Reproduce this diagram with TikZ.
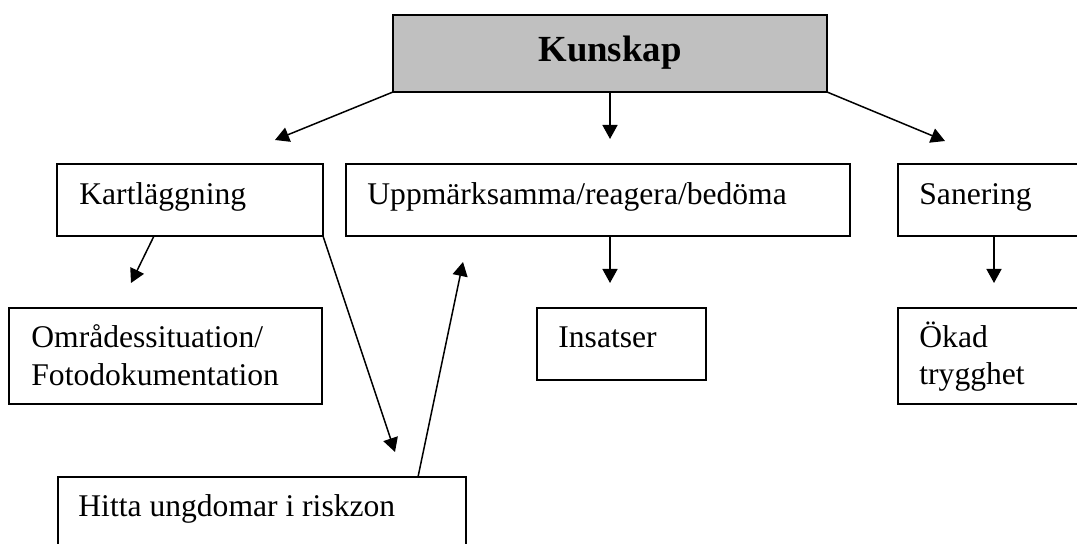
\documentclass[tikz,border=0pt]{standalone}
\usepackage{fontspec}
\setmainfont{Liberation Serif}
\usetikzlibrary{calc,arrows.meta}
\tikzset{
  boxst/.style={draw=black, line width=0.75pt, anchor=north west, inner sep=0pt, outer sep=0pt},
  txt/.style={anchor=base west, inner sep=0pt, font=\fontsize{15.8pt}{19pt}\selectfont},
  conn/.style={line width=0.75pt, -{Triangle[length=7pt,width=7.5pt]}},
  plain/.style={line width=0.75pt}
}
\newcommand\mybox[6][]{\node[boxst,#1, minimum width=#5*0.5pt, minimum height=#6*0.5pt] (#2) at (#3,#4) {};}
\begin{document}
\begin{tikzpicture}[x=0.5pt,y=-0.5pt]
\useasboundingbox (0,0) rectangle (1077,544);
\clip (0,0) rectangle (1077,544);
% boxes
\mybox[fill={rgb,255:red,192;green,192;blue,192}]{kun}{393}{15}{434}{77}
\mybox{kart}{57}{164}{266}{72}
\mybox{uppm}{346}{164}{504}{72}
\mybox{san}{898}{164}{220}{72}
\mybox{omr}{9}{308}{313}{96}
\mybox{ins}{537}{308}{169}{72}
\mybox{oka}{898}{308}{220}{96}
\mybox{hit}{58}{477}{408}{120}
% texts
\node[anchor=base, inner sep=0pt, font=\fontsize{18.4pt}{22pt}\selectfont\bfseries] (kunT) at ($(kun.north)+(0,47)$) {Kunskap};
\node[txt] (kartT) at ($(kart.north west)+(22,41)$) {Kartläggning};
\node[txt] (uppmT) at ($(uppm.north west)+(21,41)$) {Uppmärksamma/reagera/bedöma};
\node[txt] (sanT) at ($(san.north west)+(21,41)$) {Sanering};
\node[txt] (omrT1) at ($(omr.north west)+(22,40)$) {Områdessituation/};
\node[txt] (omrT2) at ($(omr.north west)+(22,78)$) {Fotodokumentation};
\node[txt] (insT) at ($(ins.north west)+(21,40)$) {Insatser};
\node[txt] (okaT1) at ($(oka.north west)+(21,40)$) {Ökad};
\node[txt] (okaT2) at ($(oka.north west)+(21,77)$) {trygghet};
\node[txt] (hitT) at ($(hit.north west)+(20,40)$) {Hitta ungdomar i riskzon};
% connector end points
\coordinate (t1) at (275,140);
\coordinate (t2) at (610,139);
\coordinate (t3) at (945,141);
\coordinate (t4) at (131,283);
\coordinate (t5) at (395,452);
\coordinate (t6) at (463,262);
\coordinate (t7) at (610,283);
\coordinate (t8) at (994,283);
\coordinate (s4) at ($(kart.south west)+(97,0)$);
\coordinate (s6) at ($(hit.north west)+(360,0)$);
\coordinate (s7) at ($(uppm.south west)+(264,0)$);
\coordinate (s8) at ($(san.south west)+(96,0)$);
% connectors
\draw[conn] (kun.south west) -- (t1);
\draw[conn] (kun.south) -- (t2);
\draw[conn] (kun.south east) -- (t3);
\draw[conn] (s4) -- (t4);
\draw[conn] (kart.south east) -- (t5);
\draw[conn] (s6) -- (t6);
\draw[conn] (s7) -- (t7);
\draw[conn] (s8) -- (t8);
\end{tikzpicture}
\end{document}
